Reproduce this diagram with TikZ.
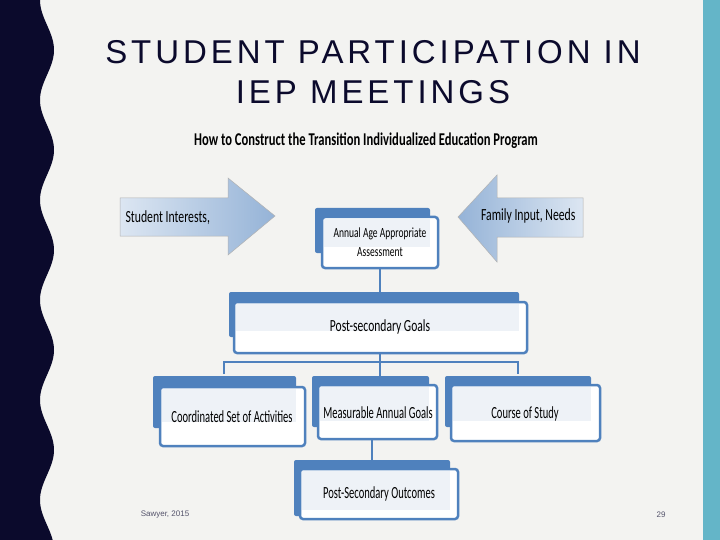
\documentclass[tikz,border=0pt]{standalone}
\usepackage{fontspec}
\usepackage{graphicx}
\setmainfont{Liberation Sans}
\newfontfamily\titlefont[LetterSpace=12]{Liberation Sans}
\newfontfamily\calfont{Carlito}
\newcommand{\cnd}[2][0.62]{\scalebox{#1}[1]{#2}}
\definecolor{bg}{HTML}{F3F3F1}
\definecolor{navy}{HTML}{0B0A2C}
\definecolor{teal}{HTML}{64B5C8}
\definecolor{boxblue}{HTML}{4F81BD}
\definecolor{inner}{HTML}{EEF2F7}
\definecolor{arrowA}{HTML}{DCE6F2}
\definecolor{arrowB}{HTML}{95B3D7}
\begin{document}
\begin{tikzpicture}[x=1pt,y=-1pt,
  back/.style={fill=boxblue, rounded corners=2pt},
  front/.style={fill=white, draw=boxblue, line width=2.5pt, rounded corners=3pt},
  lbl/.style={font=\calfont\fontsize{17}{19}\selectfont, align=center, text=black},
  conn/.style={draw=boxblue, line width=2pt},
  arr/.style={left color=arrowA, right color=arrowB, draw=gray!60, line width=0.5pt}]
\useasboundingbox (0,0) rectangle (720,540);
\fill[bg] (0,0) rectangle (720,540);
\fill[teal] (703,0) rectangle (720,540);
% wavy left band
\fill[navy] (0,0) -- plot[domain=0:540, samples=200, smooth] ({47+7*sin(3.6*\x-90)}, \x) -- (0,540) -- cycle;
% title
\node[font=\titlefont\fontsize{33}{40}\selectfont, text=navy, align=center] (title) at (373,72) {STUDENT PARTICIPATION IN\\IEP MEETINGS};
\node[font=\calfont\bfseries\fontsize{18}{20}\selectfont] (sub) at (366,141) {\cnd[0.70]{How to Construct the Transition Individualized Education Program}};
% arrows
\draw[arr] (120,198) -- (228,198) -- (228,178) -- (275,216) -- (228,255) -- (228,236) -- (120,236) -- cycle;
\node[lbl, anchor=west] (si) at (122,218) {\cnd[0.69]{Student Interests,}};
\draw[arr, left color=arrowB, right color=arrowA] (583,198) -- (497,198) -- (497,175) -- (458,217) -- (497,262) -- (497,237) -- (583,237) -- cycle;
\node[lbl, anchor=east] (fi) at (579,216) {\cnd[0.69]{Family Input, Needs}};
% boxes
\newcommand{\iepbox}[8]{%
  \fill[back] (#1,#2) rectangle (#3,#4);
  \draw[front] (#5,#6) rectangle (#7,#8);
  \fill[inner] (#5+2,#6+2) rectangle (#3,#4-6);
}
\iepbox{315}{208}{430}{253}{322}{217}{438}{268}
\iepbox{229}{292}{519}{337}{234}{302}{527}{353}
\iepbox{153}{376}{296}{428}{160}{387}{305}{446}
\iepbox{312}{376}{429}{427}{318}{385}{437}{439}
\iepbox{445}{376}{591}{427}{451}{385}{600}{441}
\iepbox{294}{460}{450}{516}{300}{469}{458}{519}
\node[lbl, font=\calfont\fontsize{14}{17}\selectfont] (a) at (380,234) {\cnd[0.68]{Annual Age Appropriate}};
\node[lbl, font=\calfont\fontsize{14}{17}\selectfont] (a2) at (380,252) {\cnd[0.68]{Assessment}};
\node[lbl] (p) at (380,327) {\cnd[0.68]{Post-secondary Goals}};
\node[lbl] (c) at (232,417) {\cnd{Coordinated Set of Activities}};
\node[lbl] (m) at (378,413) {\cnd{Measurable Annual Goals}};
\node[lbl] (s) at (525,414) {\cnd{Course of Study}};
\node[lbl] (o) at (379,494) {\cnd{Post-Secondary Outcomes}};
% connectors
\coordinate (h1) at (224,362); \coordinate (h2) at (518,362); \coordinate (hm) at (380,362);
\draw[conn] (380,268) -- (380,292);
\draw[conn] (380,353) -- (hm);
\draw[conn] (224,374) -- (h1) -- (h2) -- (518,374);
\draw[conn] (hm) -- (380,376);
\draw[conn, line width=1.2pt] (372,440) -- (372,460);
% footer
\node[font=\fontsize{8}{10}\selectfont, text=navy!70] (foot) at (165,515) {Sawyer, 2015};
\node[font=\fontsize{8}{10}\selectfont, text=navy!70] (num) at (661,515) {29};
\end{tikzpicture}
\end{document}
